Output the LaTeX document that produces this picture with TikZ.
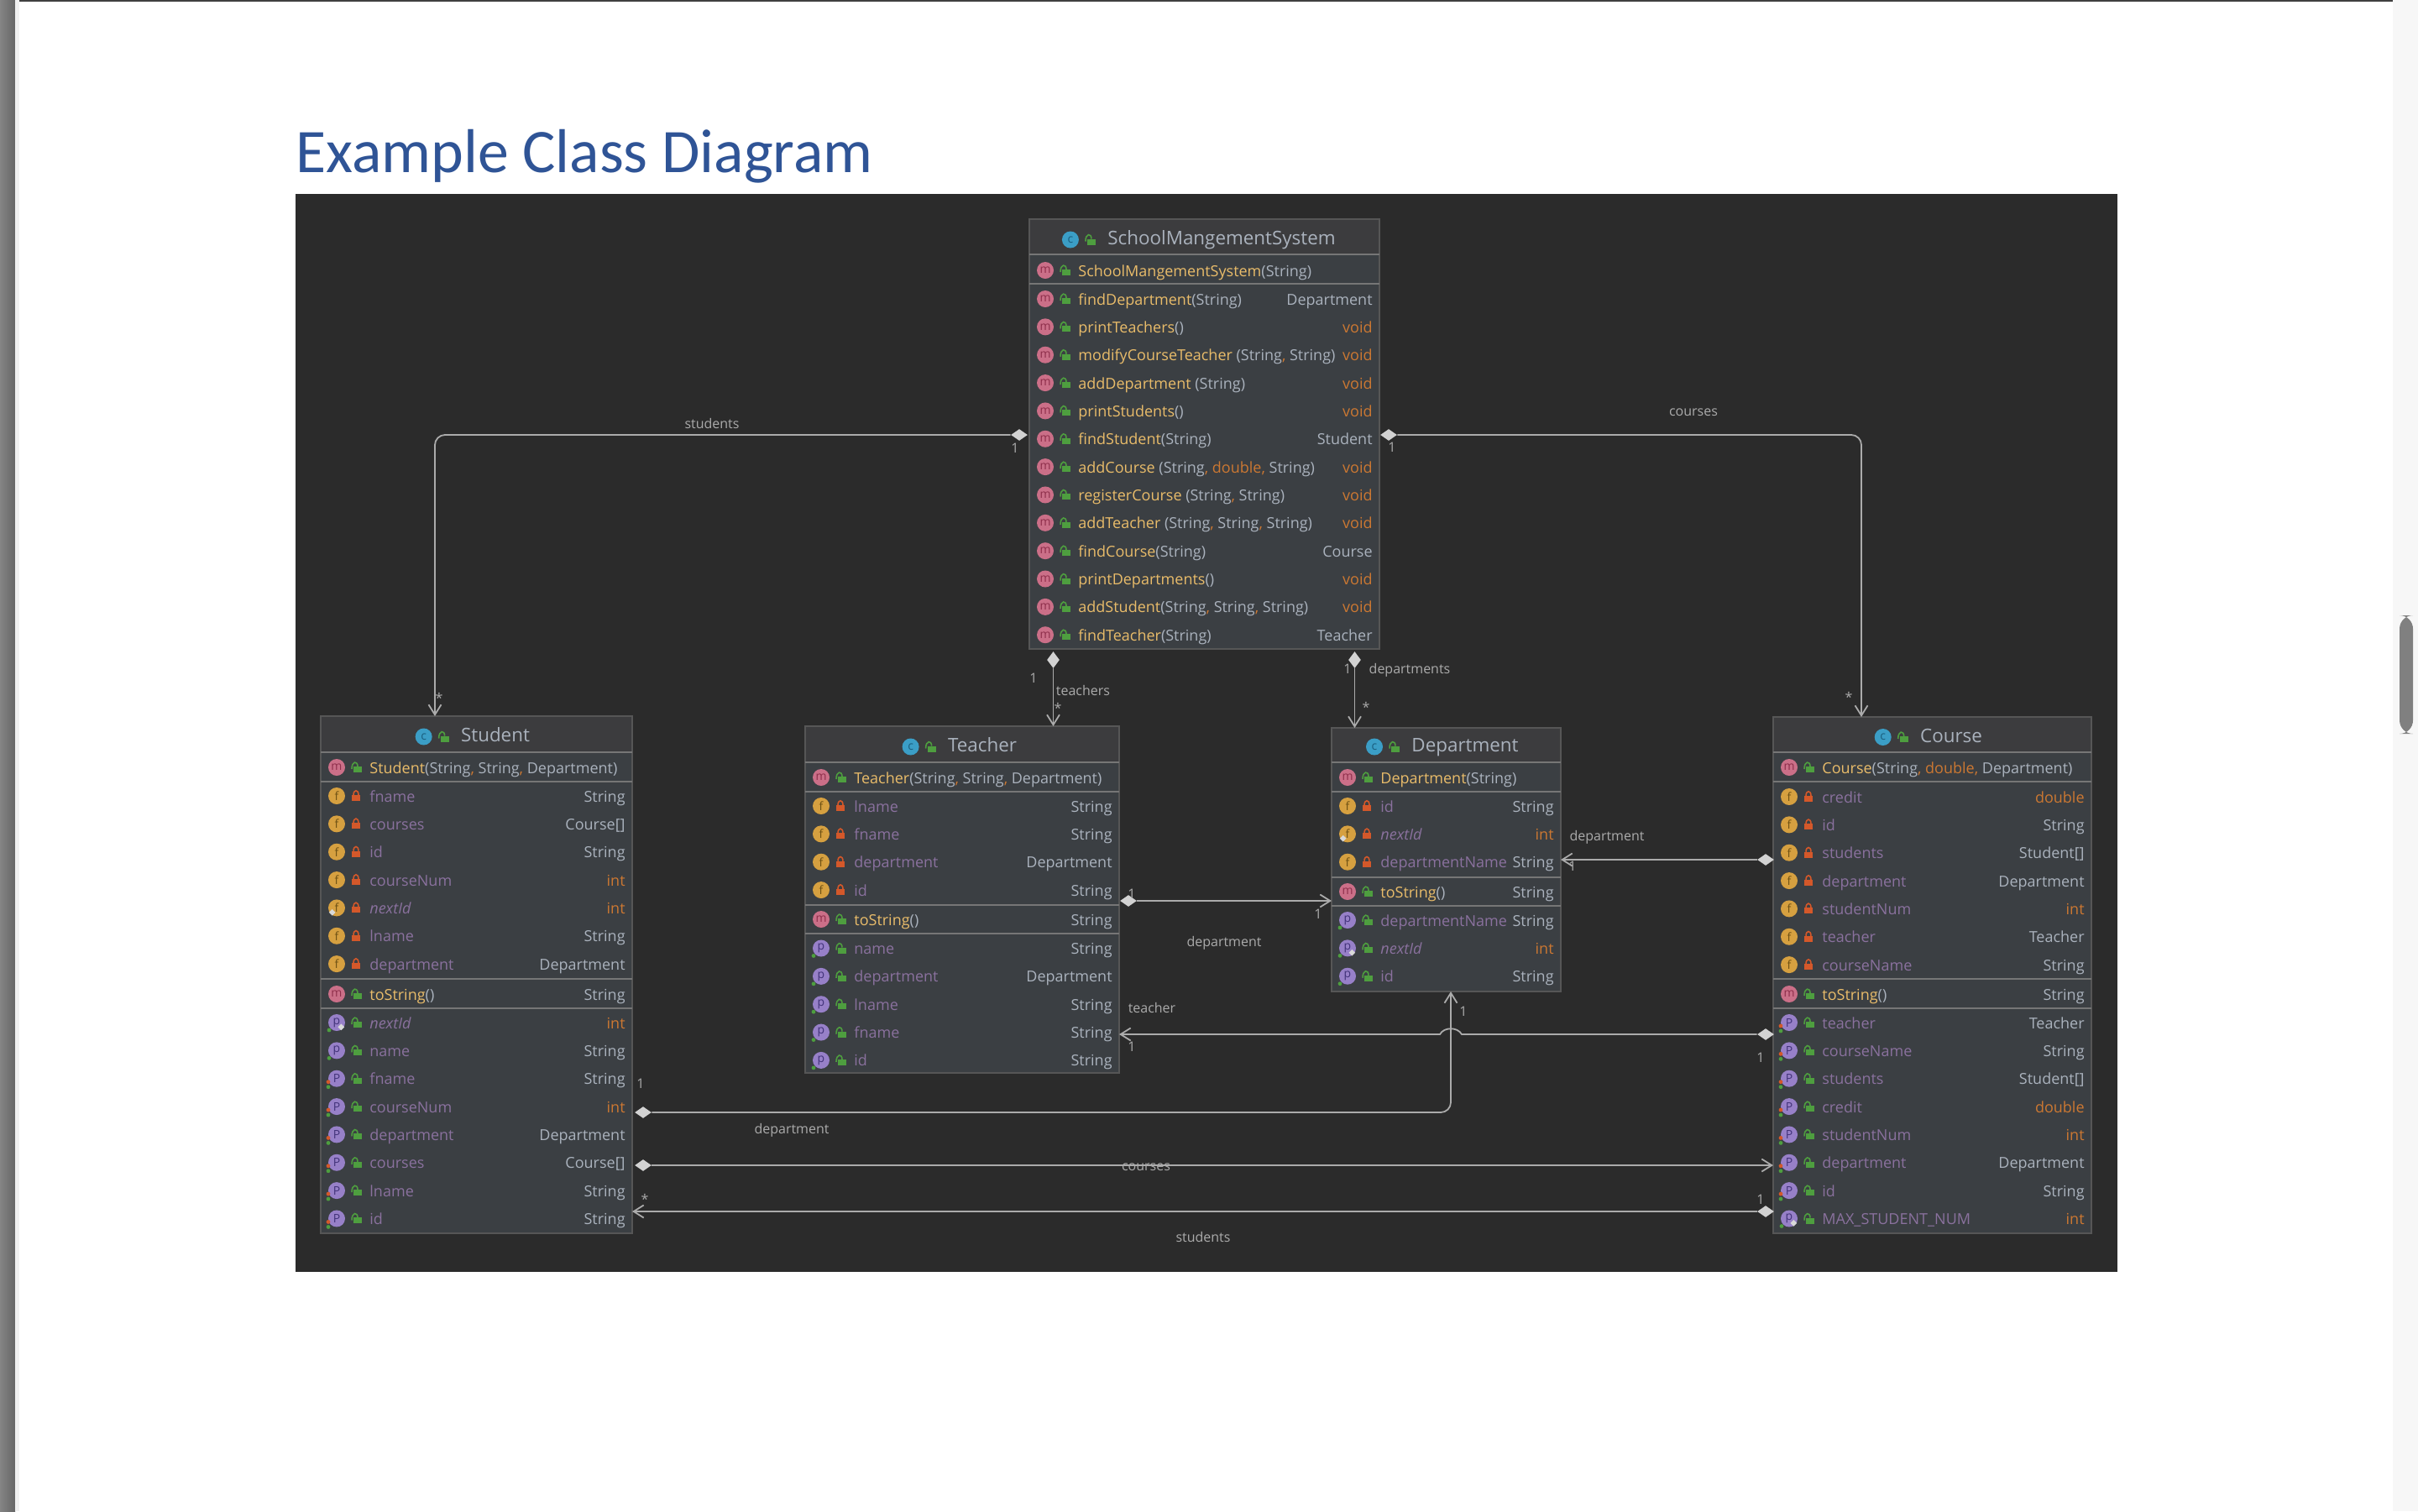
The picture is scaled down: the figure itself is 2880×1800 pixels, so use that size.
\documentclass[tikz,border=0pt]{standalone}
\usepackage{fontspec}
\setmainfont{Open Sans}
\newfontfamily\headfont{Carlito}
\usetikzlibrary{arrows.meta,shapes.geometric}
\definecolor{panelc}{HTML}{2B2B2B}
\definecolor{boxc}{HTML}{3B3F43}
\definecolor{headc}{HTML}{3C3C3E}
\definecolor{borderc}{HTML}{565656}
\definecolor{divc}{HTML}{767676}
\definecolor{methc}{HTML}{E9BC6A}
\definecolor{fieldc}{HTML}{8A719E}
\definecolor{typec}{HTML}{AAB2BD}
\definecolor{primc}{HTML}{CC7832}
\definecolor{linec}{HTML}{ABABAB}
\definecolor{titlec}{HTML}{2F5496}
\definecolor{methic}{HTML}{CB6F88}
\definecolor{methlt}{HTML}{8E2F4B}
\definecolor{fldic}{HTML}{D6A040}
\definecolor{fldlt}{HTML}{6E5114}
\definecolor{propic}{HTML}{9780C8}
\definecolor{proplt}{HTML}{42337A}
\definecolor{clsic}{HTML}{3B9EC6}
\definecolor{clslt}{HTML}{1A5E7E}
\definecolor{lockg}{HTML}{4E9E3F}
\definecolor{lockr}{HTML}{D4582A}
\definecolor{diac}{HTML}{D2D2D2}
\newcommand{\rowfont}{\fontsize{9}{10}\selectfont}
\newcommand{\Mn}[1]{\textcolor{methc}{#1}}
\newcommand{\Pt}[1]{\textcolor{primc}{#1}}
\newcommand{\cm}{\textcolor{primc}{,}}
\tikzset{
  clsbox/.style={draw=borderc,fill=boxc,line width=1pt,inner sep=0pt,outer sep=0pt},
  divline/.style={draw=divc,line width=.9pt},
  ico/.style={circle,minimum size=10pt,inner sep=0pt,font=\fontsize{7}{7}\selectfont},
  ico-c/.style={ico,fill=methic,text=methlt,execute at begin node={m}},
  ico-m/.style={ico-c},
  ico-f/.style={ico,fill=fldic,text=fldlt,execute at begin node={f}},
  ico-p/.style={ico,fill=propic,text=proplt,execute at begin node={p}},
  ico-P/.style={ico,fill=propic,text=proplt,execute at begin node={P}},
  ico-h/.style={ico,fill=clsic,text=clslt,execute at begin node={c}},
  nm-c/.style={text=typec},
  nm-m/.style={text=typec},
  nm-f/.style={text=fieldc},
  nm-p/.style={text=fieldc},
  nm-P/.style={text=fieldc},
  mtxt/.style={anchor=base west,inner sep=0pt,font=\rowfont},
  ttxt/.style={anchor=base east,inner sep=0pt,font=\rowfont,text=typec},
  ttl/.style={inner sep=0pt,text=typec,text height=8.5pt,text depth=2.5pt,font=\fontsize{11.2}{12}\selectfont},
  dia/.style={diamond,fill=diac,inner sep=0pt,minimum width=10pt,minimum height=7pt},
  diaV/.style={diamond,fill=diac,inner sep=0pt,minimum width=7.5pt,minimum height=10pt},
  conn/.style={draw=linec,line width=.9pt,-{Straight Barb[length=6pt,width=7.5pt]}},
  lbl/.style={inner sep=0pt,text=linec,font=\fontsize{8}{9}\selectfont},
  pinmark/.style={diamond,fill=white!85!black,inner sep=0pt,minimum size=4pt},
  lockopen/.pic={
    \fill[lockg] (-3,-1) rectangle (7,6);
    \draw[lockg,line width=.8pt] (-5,2) .. controls (-5,-8) and (2,-8) .. (2,-1);
  },
  lockshut/.pic={
    \fill[lockr] (-5,-1) rectangle (5,6);
    \draw[lockr,line width=.8pt] (-3,-1) .. controls (-3,-8) and (3,-8) .. (3,-1);
  },
  mark-c/.pic={\pic at (23,0) {lockopen};},
  mark-m/.pic={\pic at (23,0) {lockopen};},
  mark-f/.pic={\pic at (23,0) {lockshut};},
  mark-p/.pic={\pic at (23,0) {lockopen}; \fill[lockg] (-9,9) circle [radius=1.2pt];},
  mark-P/.pic={\pic at (23,0) {lockopen}; \fill[lockr] (-10,4) circle [radius=1.2pt]; \fill[lockg] (-10,10) circle [radius=1.2pt];},
}
% class frame: name, left, top, right, bottom, title x, title y, divider list
\newcommand{\classbox}[8]{
  \node[clsbox,minimum width={(#4-#2)*.5pt},minimum height={(#5-#3)*.5pt}] (#1) at ({(#2+#4)/2},{(#3+#5)/2}) {};
  \fill[headc] (#2+1,#3+1) rectangle (#4-1,#3+42);
  \node[ttl] (#1T) at (#6,#7) {#1};
  \node[ico-h] (#1I) at ([xshift=-22pt]#1T.west) {};
  \pic at ([xshift=-10.5pt]#1T.west) {lockopen};
  \foreach \dv in {#8} {\draw[divline] (#2,\dv) -- (#4,\dv);}
}
% member rows: class, kind, left, right, first row y, name/type list
\newcommand{\members}[6]{
  \foreach \nm/\ty [count=\i from 0] in {#6} {
    \pgfmathsetmacro\yy{#5+\i*33.35}
    \node[ico-#2] (#1-#2\i) at (#3+19,\yy) {};
    \pic at (#3+19,\yy) {mark-#2};
    \node[mtxt,nm-#2] (#1-#2\i n) at (#3+58,\yy+7) {\nm};
    \node[ttxt] (#1-#2\i t) at (#4-8,\yy+7) {\ty};
  }
}
\begin{document}
\begin{tikzpicture}[x=.5pt,y=-.5pt]
  \useasboundingbox (0,0) rectangle (2880,1800);
  \fill[white] (0,0) rectangle (2880,1800);
  \fill[black!75] (0,0) rectangle (2880,1.5);
  \shade[left color=black!48,right color=black!60] (0,0) rectangle (18,1800);
  \fill[black!6] (18,0) rectangle (23,1800);
  \fill[black!3] (2850,0) rectangle (2880,1800);
  \fill[black!50,rounded corners=8] (2858,733) rectangle (2874,874);
  \node[anchor=base west,inner sep=0pt,text=titlec,font=\headfont\fontsize{36.9}{40}\selectfont] (heading) at (352,205) {Example Class Diagram};
  \fill[panelc] (352,231) rectangle (2522,1515);

  % SchoolMangementSystem
  \classbox{SchoolMangementSystem}{1226}{261}{1643}{773}{1455}{285.5}{303,338}
  \members{SchoolMangementSystem}{c}{1226}{1643}{322}{\Mn{SchoolMangementSystem}(String)/}
  \members{SchoolMangementSystem}{m}{1226}{1643}{356}{
    \Mn{findDepartment}(String)/Department,
    \Mn{printTeachers}()/\Pt{void},
    \Mn{modifyCourseTeacher} (String\cm{} String)/\Pt{void},
    \Mn{addDepartment} (String)/\Pt{void},
    \Mn{printStudents}()/\Pt{void},
    \Mn{findStudent}(String)/Student,
    \Mn{addCourse} (String\cm{} \Pt{double}\cm{} String)/\Pt{void},
    \Mn{registerCourse} (String\cm{} String)/\Pt{void},
    \Mn{addTeacher} (String\cm{} String\cm{} String)/\Pt{void},
    \Mn{findCourse}(String)/Course,
    \Mn{printDepartments}()/\Pt{void},
    \Mn{addStudent}(String\cm{} String\cm{} String)/\Pt{void},
    \Mn{findTeacher}(String)/Teacher}

  % Student
  \classbox{Student}{382}{853}{753}{1469}{590}{877.5}{896,931,1166,1201}
  \members{Student}{c}{382}{753}{914}{\Mn{Student}(String\cm{} String\cm{} Department)/}
  \members{Student}{f}{382}{753}{948}{
    fname/String, courses/Course[], id/String, courseNum/\Pt{int}, \textit{nextId}/\Pt{int},
    lname/String, department/Department}
  \members{Student}{m}{382}{753}{1184}{\Mn{toString}()/String}
  \members{Student}{p}{382}{753}{1218}{\textit{nextId}/\Pt{int}, name/String}
  \members{Student}{P}{382}{753}{1284.7}{
    fname/String, courseNum/\Pt{int}, department/Department, courses/Course[], lname/String, id/String}

  % Teacher
  \classbox{Teacher}{959}{865}{1333}{1278}{1170}{889.5}{908,943,1078,1112}
  \members{Teacher}{c}{959}{1333}{926}{\Mn{Teacher}(String\cm{} String\cm{} Department)/}
  \members{Teacher}{f}{959}{1333}{960}{lname/String, fname/String, department/Department, id/String}
  \members{Teacher}{m}{959}{1333}{1095}{\Mn{toString}()/String}
  \members{Teacher}{p}{959}{1333}{1129.5}{name/String, department/Department, lname/String, fname/String, id/String}

  % Department
  \classbox{Department}{1586}{867}{1859}{1181}{1745}{889.5}{908,943,1045,1079}
  \members{Department}{c}{1586}{1859}{926}{\Mn{Department}(String)/}
  \members{Department}{f}{1586}{1859}{960}{id/String, \textit{nextId}/\Pt{int}, departmentName/String}
  \members{Department}{m}{1586}{1859}{1062}{\Mn{toString}()/String}
  \members{Department}{p}{1586}{1859}{1096}{departmentName/String, \textit{nextId}/\Pt{int}, id/String}

  % Course
  \classbox{Course}{2112}{854}{2491}{1469}{2324}{878}{896,931,1166,1201}
  \members{Course}{c}{2112}{2491}{914}{\Mn{Course}(String\cm{} \Pt{double}\cm{} Department)/}
  \members{Course}{f}{2112}{2491}{949}{
    credit/\Pt{double}, id/String, students/Student[], department/Department,
    studentNum/\Pt{int}, teacher/Teacher, courseName/String}
  \members{Course}{m}{2112}{2491}{1184}{\Mn{toString}()/String}
  \members{Course}{P}{2112}{2491}{1218}{
    teacher/Teacher, courseName/String, students/Student[], credit/\Pt{double},
    studentNum/\Pt{int}, department/Department, id/String}
  \members{Course}{p}{2112}{2491}{1451.5}{MAX\_STUDENT\_NUM/\Pt{int}}

  % static pins
  \node[pinmark] (pinA) at ([xshift=1pt,yshift=1pt]Student-f4.south west) {};
  \node[pinmark] (pinB) at ([xshift=-1pt,yshift=1pt]Student-p0.south east) {};
  \node[pinmark] (pinC) at ([xshift=1pt,yshift=1pt]Department-f1.south west) {};
  \node[pinmark] (pinD) at ([xshift=-1pt,yshift=1pt]Department-p1.south east) {};
  \node[pinmark] (pinE) at ([xshift=-1pt,yshift=1pt]Course-p0.south east) {};

  % connector ends
  \node[dia] (dStudents) at (1214,518) {};
  \node[dia] (dCourses) at (1654,518) {};
  \node[diaV] (dTeachers) at (1254.5,786) {};
  \node[diaV] (dDepts) at (1613.5,786) {};
  \node[dia] (dTeachDept) at (1344,1073) {};
  \node[dia] (dCourseDept) at (2103,1024) {};
  \node[dia] (dCourseTeach) at (2103,1232) {};
  \node[dia] (dStudDept) at (766,1325) {};
  \node[dia] (dStudCourse) at (766,1388) {};
  \node[dia] (dCourseStud) at (2103,1443) {};
  \coordinate (aStudents) at (518,853);
  \coordinate (aCourses) at (2217,854);
  \coordinate (aTeachers) at (1254.5,865);
  \coordinate (aDepts) at (1613.5,867);
  \coordinate (aTeachDept) at (1586,1073);
  \coordinate (aCourseDept) at (1859,1024);
  \coordinate (aCourseTeach) at (1333,1232);
  \coordinate (aStudDept) at (1728,1181);
  \coordinate (aStudCourse) at (2112,1388);
  \coordinate (aCourseStud) at (753,1443);
  \coordinate (jumpR) at (1741,1232);
  \coordinate (jumpL) at (1715,1232);

  % connectors
  \draw[conn,rounded corners=6pt] (dStudents.west) -| (aStudents);
  \draw[conn,rounded corners=6pt] (dCourses.east) -| (aCourses);
  \draw[conn] (dTeachers.south) -- (aTeachers);
  \draw[conn] (dDepts.south) -- (aDepts);
  \draw[conn] (dTeachDept.east) -- (aTeachDept);
  \draw[conn] (dCourseDept.west) -- (aCourseDept);
  \draw[conn] (dCourseTeach.west) -- (jumpR) .. controls (1736,1223) and (1720,1223) .. (jumpL) -- (aCourseTeach);
  \draw[conn,rounded corners=6pt] (dStudDept.east) -| (aStudDept);
  \draw[conn] (dStudCourse.east) -- (aStudCourse);
  \draw[conn] (dCourseStud.west) -- (aCourseStud);

  % labels
  \node[lbl] (lbStudents) at (848,504) {students};
  \node[lbl] (lbCourses) at (2017,491.5) {courses};
  \node[lbl] (lbTeachers) at (1290,822) {teachers};
  \node[lbl] (lbDepts) at (1679,798) {departments};
  \node[lbl] (lbTeachDept) at (1458,1123.5) {department};
  \node[lbl] (lbCourseDept) at (1914,997) {department};
  \node[lbl] (lbCourseTeach) at (1372,1200) {teacher};
  \node[lbl] (lbStudDept) at (943,1346) {department};
  \node[lbl] (lbStudCourse) at (1365,1390) {courses};
  \node[lbl] (lbCourseStud) at (1433,1473) {students};
  % multiplicities
  \node[lbl] (m1) at (1209,534) {1};
  \node[lbl] (m2) at (523,831) {*};
  \node[lbl] (m3) at (1658,533) {1};
  \node[lbl] (m4) at (2202,830) {*};
  \node[lbl] (m5) at (1231,808) {1};
  \node[lbl] (m6) at (1260,843) {*};
  \node[lbl] (m7) at (1605,797) {1};
  \node[lbl] (m8) at (1627,842) {*};
  \node[lbl] (m9) at (1348,1065) {1};
  \node[lbl] (m10) at (1570,1089) {1};
  \node[lbl] (m11) at (1873,1032) {1};
  \node[lbl] (m12) at (1348,1247) {1};
  \node[lbl] (m13) at (2097,1260) {1};
  \node[lbl] (m14) at (763,1291) {1};
  \node[lbl] (m15) at (1743,1205) {1};
  \node[lbl] (m16) at (2097,1429) {1};
  \node[lbl] (m17) at (768,1428) {*};
\end{tikzpicture}
\end{document}
